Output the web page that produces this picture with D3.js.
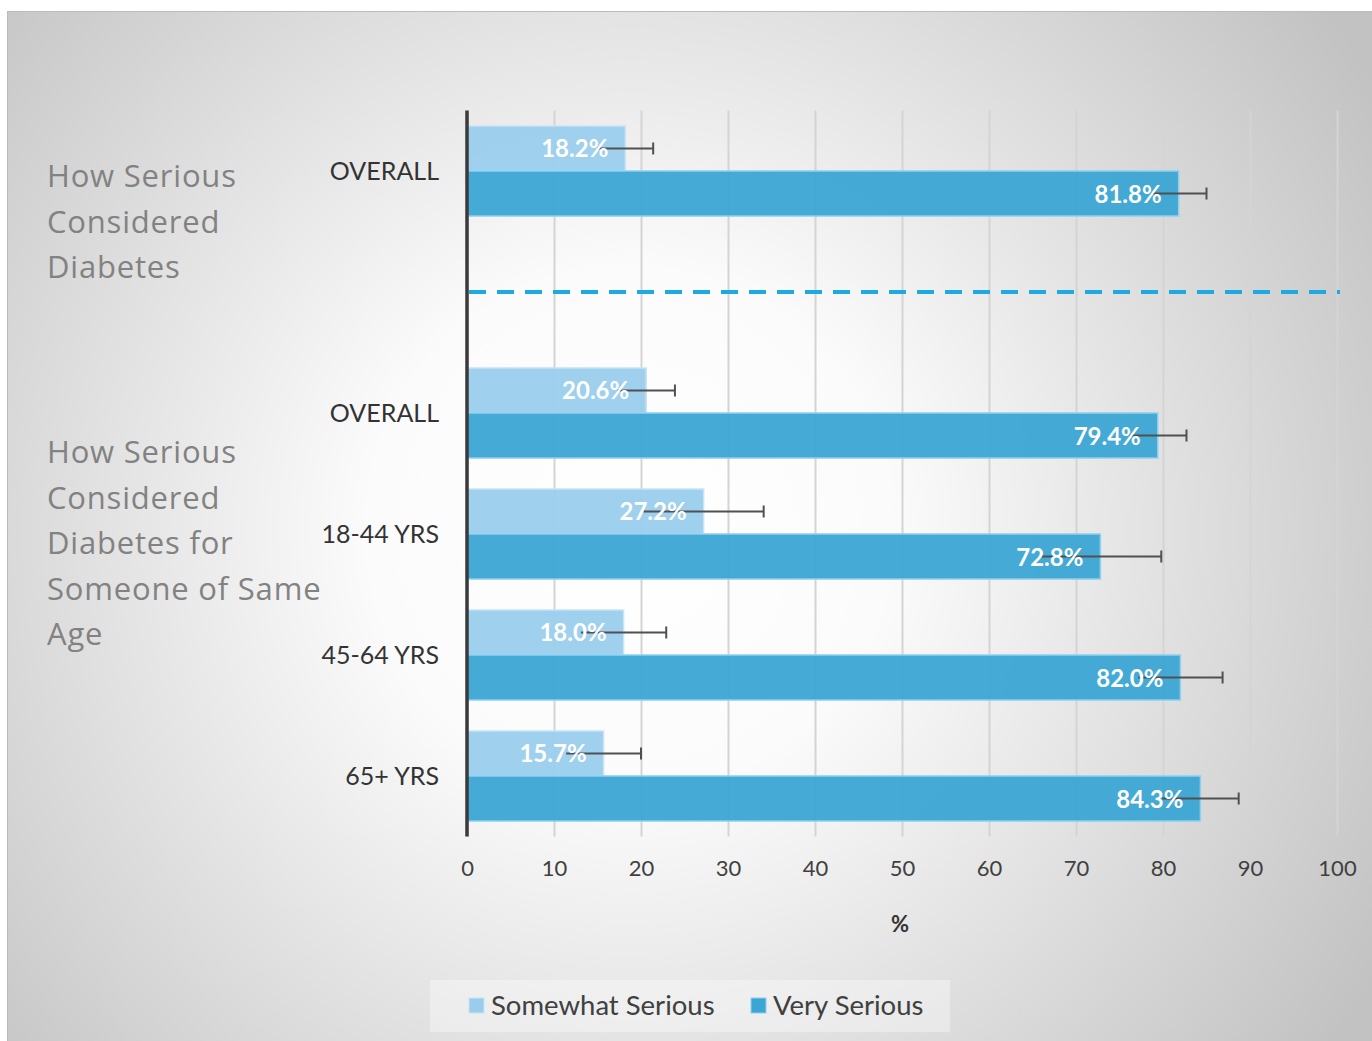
<!DOCTYPE html>
<html>
<head>
<meta charset="utf-8">
<script src="https://cdn.jsdelivr.net/npm/d3@7"></script>
<style>
  html, body { margin: 0; padding: 0; background: #ffffff; }
  svg { display: block; }
  text { font-family: Lato, "Open Sans", sans-serif; }
  text.title { font-family: "Open Sans", sans-serif; letter-spacing: 0.8px; }
</style>
</head>
<body>
<div id="chart"></div>
<script>
// ---- data ----
const categories = ["OVERALL", "", "OVERALL", "18-44 YRS", "45-64 YRS", "65+ YRS"];
const somewhatSerious = [18.2, null, 20.6, 27.2, 18.0, 15.7];
const verySerious = [81.8, null, 79.4, 72.8, 82.0, 84.3];
const somewhatErr = [3.2, null, 3.3, 6.9, 4.9, 4.3];
const veryErr = [3.2, null, 3.3, 7.0, 4.85, 4.4];
const xTicks = [0, 10, 20, 30, 40, 50, 60, 70, 80, 90, 100];
const seriesNames = ["Somewhat Serious", "Very Serious"];
const groupTitles = [
  ["How Serious", "Considered", "Diabetes"],
  ["How Serious", "Considered", "Diabetes for", "Someone of Same", "Age"]
];
const xAxisTitle = "%";

// ---- layout ----
const W = 1372, H = 1041;
const colors = ["#9acdec", "#3ba6d4"];
const svg = d3.select("#chart").append("svg").attr("width", W).attr("height", H);
const defs = svg.append("defs");

const bg = defs.append("radialGradient").attr("id", "bg")
  .attr("gradientUnits", "userSpaceOnUse").attr("cx", 630).attr("cy", 530).attr("r", 870);
bg.append("stop").attr("offset", 0).attr("stop-color", "#ffffff");
bg.append("stop").attr("offset", 0.3).attr("stop-color", "#fbfbfb");
bg.append("stop").attr("offset", 1).attr("stop-color", "#c2c2c2");

const plotTop = 110.5, plotBottom = 836.5;
const gg = defs.append("linearGradient").attr("id", "grid")
  .attr("gradientUnits", "userSpaceOnUse").attr("x1", 0).attr("y1", plotTop).attr("x2", 0).attr("y2", plotBottom);
gg.append("stop").attr("offset", 0).attr("stop-color", "#d4d4d4");
gg.append("stop").attr("offset", 1).attr("stop-color", "#808080");

svg.append("rect").attr("x", 7).attr("y", 11).attr("width", W - 7).attr("height", H - 11)
  .attr("fill", "url(#bg)");
svg.append("path").attr("d", `M7.5,${H}V11.5H${W}`).attr("fill", "none")
  .attr("stroke", "#bcbcbc").attr("stroke-width", 1);

const x = d3.scaleLinear().domain([0, 100]).range([467, 1337]);
const y = d3.scaleBand().domain(d3.range(categories.length)).range([plotTop, plotBottom]).paddingInner(0).paddingOuter(0);
const inner = d3.scaleBand().domain([0, 1]).range([0, y.bandwidth()]).paddingInner(0).paddingOuter(0.344);

// gridlines + tick labels
const axis = d3.axisBottom(x).tickValues(xTicks).tickSize(-(plotBottom - plotTop)).tickPadding(24).tickFormat(d3.format("d"));
const ax = svg.append("g").attr("transform", `translate(0,${plotBottom})`).call(axis);
ax.select(".domain").remove();
ax.selectAll(".tick line").attr("stroke", "url(#grid)").attr("stroke-width", 2);
ax.selectAll(".tick text").attr("fill", "#404040").attr("font-size", 22).attr("font-family", "Lato, sans-serif");

// dashed separator at the empty category
svg.append("line")
  .attr("x1", x(0) + 2).attr("x2", x(100) + 3)
  .attr("y1", y(1) + y.bandwidth() / 2).attr("y2", y(1) + y.bandwidth() / 2)
  .attr("stroke", "#1fa9e1").attr("stroke-width", 4).attr("stroke-dasharray", "17,11");

// bars
const series = [somewhatSerious, verySerious];
const errs = [somewhatErr, veryErr];
const rows = [];
series.forEach((vals, s) => vals.forEach((v, i) => { if (v != null) rows.push({ s, i, v, e: errs[s][i] }); }));

const bars = svg.append("g");
bars.selectAll("rect").data(rows).join("rect")
  .attr("x", x(0))
  .attr("y", d => y(d.i) + inner(d.s))
  .attr("width", d => x(d.v) - x(0))
  .attr("height", inner.bandwidth())
  .attr("fill", d => colors[d.s])
  .attr("fill-opacity", 0.95)
  .attr("stroke", d => d.s === 0 ? "#c8e4f6" : "#8fd0ef")
  .attr("stroke-width", 1.5);

// error bars
const eb = svg.append("g").attr("stroke", "#505050").attr("stroke-width", 2);
rows.forEach(d => {
  const cy = y(d.i) + inner(d.s) + inner.bandwidth() / 2;
  eb.append("line").attr("x1", x(d.v - d.e)).attr("x2", x(d.v + d.e)).attr("y1", cy).attr("y2", cy);
  eb.append("line").attr("x1", x(d.v + d.e)).attr("x2", x(d.v + d.e)).attr("y1", cy - 6).attr("y2", cy + 6);
});

// value labels
svg.append("g").selectAll("text").data(rows).join("text")
  .attr("x", d => x(d.v) - 17)
  .attr("y", d => y(d.i) + inner(d.s) + inner.bandwidth() / 2 + 9)
  .attr("text-anchor", "end")
  .attr("fill", "#ffffff").attr("font-weight", 700).attr("font-size", 24)
  .text(d => d3.format(".1f")(d.v) + "%");

// axis line
svg.append("line").attr("x1", x(0)).attr("x2", x(0)).attr("y1", plotTop).attr("y2", plotBottom)
  .attr("stroke", "#3a3a3a").attr("stroke-width", 3.5);

// category labels
svg.append("g").selectAll("text").data(categories).join("text")
  .attr("x", 439).attr("y", (d, i) => y(i) + y.bandwidth() / 2 + 9)
  .attr("text-anchor", "end").attr("fill", "#333333").attr("font-size", 25)
  .text(d => d);

// group titles
const titleTops = [187, 463];
groupTitles.forEach((lines, g) => {
  svg.append("text").attr("class", "title").attr("x", 47).attr("y", titleTops[g]).attr("fill", "#828282")
    .attr("font-size", 31)
    .selectAll("tspan").data(lines).join("tspan")
    .attr("x", 47).attr("dy", (d, i) => i === 0 ? 0 : 45.5).text(d => d);
});

// x axis title
svg.append("text").attr("x", 900).attr("y", 932).attr("text-anchor", "middle")
  .attr("fill", "#333").attr("font-weight", 700).attr("font-size", 22).text(xAxisTitle);

// legend
const lg = svg.append("g");
lg.append("rect").attr("x", 430).attr("y", 980).attr("width", 520).attr("height", 52)
  .attr("fill", "#ffffff").attr("fill-opacity", 0.35);
const legendX = [469, 751];
seriesNames.forEach((name, s) => {
  lg.append("rect").attr("x", legendX[s]).attr("y", 998).attr("width", 15).attr("height", 15)
    .attr("fill", colors[s]).attr("stroke", s === 0 ? "#c8e4f6" : "#8fd0ef").attr("stroke-width", 1);
  lg.append("text").attr("x", legendX[s] + 22).attr("y", 1015).attr("fill", "#404040")
    .attr("font-size", 27.5).text(name);
});
</script>
</body>
</html>
